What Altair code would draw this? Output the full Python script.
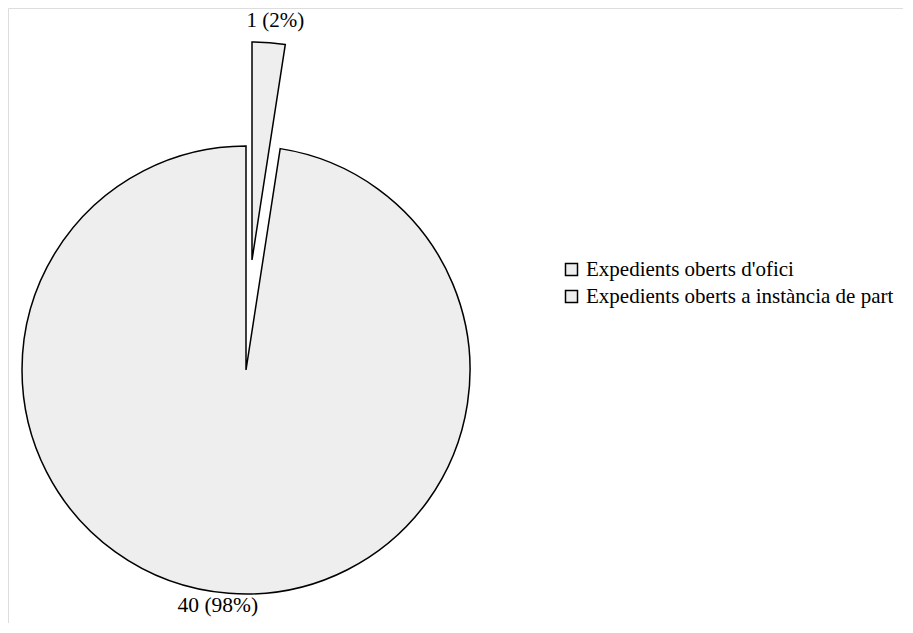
import altair as alt
import pandas as pd

categories = ["Expedients oberts d'ofici", "Expedients oberts a instància de part"]
values = [1, 40]
labels = ["1 (2%)", "40 (98%)"]
order = [0, 1]

total = sum(values)
df = pd.DataFrame({"cat": categories, "value": values, "label": labels, "order": order})

FONT = "Liberation Serif"
FILL = "#eeeeee"
R = 224
CX, CY = 238, 362
EX, EY = 244, 252

base = (
    alt.Chart(df)
    .transform_window(cum="sum(value)", sort=[alt.SortField("order")], frame=[None, 0])
    .transform_calculate(start="datum.cum - datum.value", mid="datum.cum - datum.value/2")
)

theta_scale = alt.Scale(domain=[0, total])
color = alt.Color(
    "cat:N",
    scale=alt.Scale(domain=categories, range=[FILL, FILL]),
    sort=categories,
    legend=alt.Legend(
        title=None,
        orient="none",
        legendX=553,
        legendY=251,
        symbolType="square",
        symbolSize=144,
        symbolStrokeColor="black",
        symbolStrokeWidth=1.5,
        symbolFillColor=FILL,
        labelFont=FONT,
        labelFontSize=21,
        labelColor="black",
        labelLimit=0,
        rowPadding=5,
        symbolOffset=0,
        labelOffset=4,
    ),
)

big = (
    base.transform_filter("datum.order == 1")
    .mark_arc(stroke="black", strokeWidth=1.5, outerRadius=R)
    .encode(
        theta=alt.Theta("start:Q", scale=theta_scale),
        theta2="cum:Q",
        color=color,
        x=alt.value(CX),
        y=alt.value(CY),
    )
)

small = (
    base.transform_filter("datum.order == 0")
    .mark_arc(stroke="black", strokeWidth=1.5, outerRadius=R - 6)
    .encode(
        theta=alt.Theta("start:Q", scale=theta_scale),
        theta2="cum:Q",
        color=color,
        x=alt.value(EX),
        y=alt.value(EY),
    )
)

big_lab = (
    base.transform_filter("datum.order == 1")
    .mark_text(radius=237, dx=-10, font=FONT, fontSize=21.5, color="black", baseline="middle")
    .encode(
        theta=alt.Theta("mid:Q", scale=theta_scale),
        text="label:N",
        x=alt.value(CX),
        y=alt.value(CY),
    )
)

small_lab = (
    base.transform_filter("datum.order == 0")
    .mark_text(radius=240, dx=5, font=FONT, fontSize=21, color="black", baseline="middle")
    .encode(
        theta=alt.Theta("mid:Q", scale=theta_scale),
        text="label:N",
        x=alt.value(EX),
        y=alt.value(EY),
    )
)

chart = (
    alt.layer(big, small, big_lab, small_lab)
    .resolve_scale(theta="shared")
    .properties(width=895, height=615, autosize=alt.AutoSizeParams(type="none"), padding=0)
    .configure_view(stroke=None, strokeWidth=0, fill="white")
    .configure(background="white")
)

chart.save("out.html", embed_options={"renderer": "svg", "actions": False})
